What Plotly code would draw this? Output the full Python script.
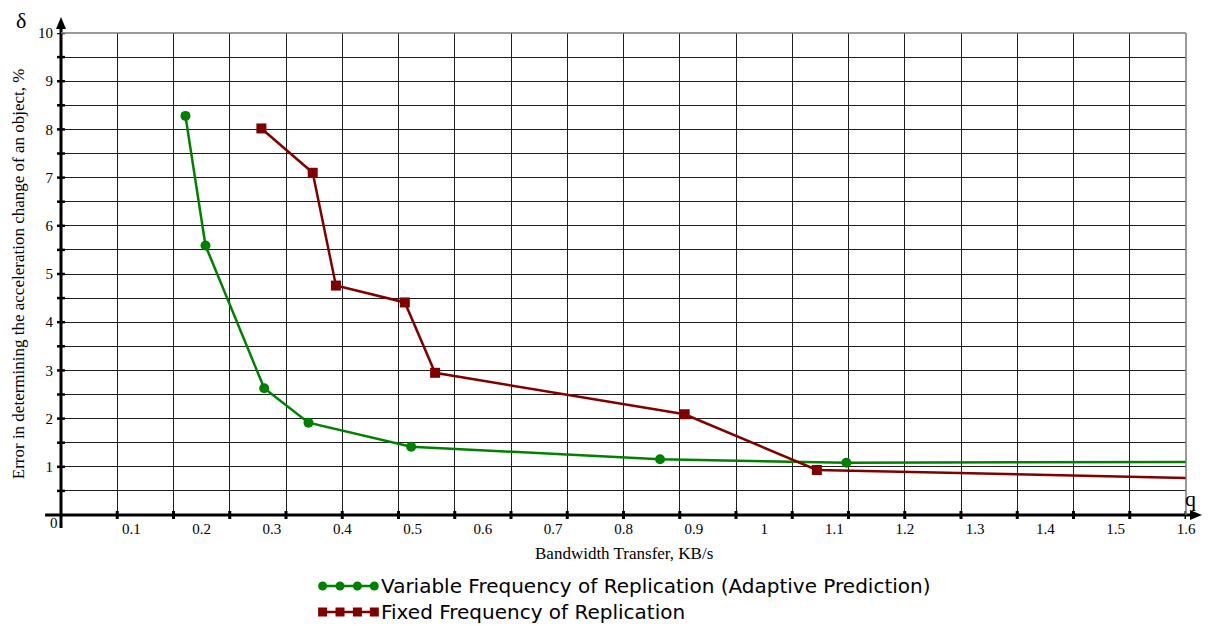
import plotly.graph_objects as go

# ---- data ----
green_x = [0.177, 0.2055, 0.289, 0.352, 0.498, 0.852, 1.117, 1.6]
green_y = [8.28, 5.59, 2.63, 1.915, 1.417, 1.155, 1.085, 1.10]
red_x = [0.285, 0.358, 0.391, 0.489, 0.532, 0.887, 1.075, 1.6]
red_y = [8.02, 7.10, 4.76, 4.41, 2.95, 2.09, 0.934, 0.77]

green_name = "Variable Frequency of Replication (Adaptive Prediction)"
red_name = "Fixed Frequency of Replication"

x_tick_vals = [0.1, 0.2, 0.3, 0.4, 0.5, 0.6, 0.7, 0.8, 0.9, 1.0, 1.1, 1.2, 1.3, 1.4, 1.5, 1.6]
x_tick_text = ["0.1", "0.2", "0.3", "0.4", "0.5", "0.6", "0.7", "0.8", "0.9", "1",
               "1.1", "1.2", "1.3", "1.4", "1.5", "1.6"]
y_tick_vals = [i * 0.5 for i in range(21)]
y_tick_text = [str(int(v)) if (v == int(v) and v != 0) else "" for v in y_tick_vals]
x_grid_vals = [round(0.08 * i, 2) for i in range(21)]

GREEN = "#008000"
RED = "#800000"
GRID = "#1e1e1e"
SERIF = "Liberation Serif"
SANS = "DejaVu Sans"

L, R, T, B = 61, 16, 33, 111
W, H = 1208, 626
PW, PH = W - L - R, H - T - B


def px(xp):
    return (xp - L) / PW


def py(yp):
    return (H - B - yp) / PH


fig = go.Figure()

fig.add_trace(go.Scatter(
    x=green_x, y=green_y, mode="lines+markers", name=green_name,
    line=dict(color=GREEN, width=2.5),
    marker=dict(color=GREEN, symbol="circle", opacity=1,
                line=dict(color=GREEN, width=0),
                size=[10] * (len(green_x) - 1) + [0]),
    showlegend=False, cliponaxis=False))
fig.add_trace(go.Scatter(
    x=red_x, y=red_y, mode="lines+markers", name=red_name,
    line=dict(color=RED, width=2.5),
    marker=dict(color=RED, symbol="square", opacity=1,
                line=dict(color=RED, width=0),
                size=[10] * (len(red_x) - 1) + [0]),
    showlegend=False, cliponaxis=False))
# invisible trace to activate the grid axis
fig.add_trace(go.Scatter(x=[0], y=[0], xaxis="x2", mode="markers",
                         marker=dict(size=0, opacity=0), showlegend=False,
                         hoverinfo="skip"))

fig.update_layout(
    width=W, height=H,
    margin=dict(l=L, r=R, t=T, b=B),
    plot_bgcolor="white", paper_bgcolor="white",
    font=dict(family=SERIF, size=15, color="black"),
    xaxis=dict(range=[0, 1.6], tickvals=x_tick_vals, ticktext=x_tick_text,
               showgrid=False, zeroline=False, showline=False, ticks="",
               ticklabelstandoff=3,
               tickfont=dict(family=SERIF, size=15, color="black")),
    xaxis2=dict(range=[0, 1.6], overlaying="x", side="bottom", anchor="y",
                tickvals=x_grid_vals, showticklabels=False,
                showgrid=True, gridcolor=GRID, gridwidth=1.2,
                ticks="", zeroline=False, showline=False),
    yaxis=dict(range=[0, 10], tickvals=y_tick_vals, ticktext=y_tick_text,
               showgrid=True, gridcolor=GRID, gridwidth=1.2,
               ticks="", zeroline=False, showline=False,
               ticklabelstandoff=7,
               tickfont=dict(family=SERIF, size=15, color="black")),
)

# axis lines (shapes) with arrowheads
fig.add_shape(type="line", xref="paper", yref="paper", x0=px(45), x1=px(1200),
              y0=0, y1=0, line=dict(color="black", width=3), layer="above")
fig.add_shape(type="line", xref="paper", yref="paper", x0=0, x1=0,
              y0=py(528), y1=py(25), line=dict(color="black", width=3), layer="above")
fig.add_shape(type="path", xref="paper", yref="paper", xsizemode="pixel", ysizemode="pixel",
              xanchor=px(1196), yanchor=0, path="M 0 -5 L 12 0 L 0 5 Z",
              fillcolor="black", line=dict(color="black", width=0), layer="above")
fig.add_shape(type="path", xref="paper", yref="paper", xsizemode="pixel", ysizemode="pixel",
              xanchor=0, yanchor=py(29), path="M -5 0 L 0 12 L 5 0 Z",
              fillcolor="black", line=dict(color="black", width=0), layer="above")

# tick marks on axes
for gx in x_grid_vals[1:]:
    fig.add_shape(type="line", xref="x", yref="paper", x0=gx, x1=gx,
                  y0=py(519), y1=py(511), line=dict(color="black", width=3), layer="above")
for gy in y_tick_vals[1:]:
    fig.add_shape(type="line", xref="paper", yref="y", x0=px(L - 4), x1=px(L + 4),
                  y0=gy, y1=gy, line=dict(color="black", width=2.5), layer="above")

# border on top and right
fig.add_shape(type="line", xref="paper", yref="paper", x0=0, x1=1, y0=1, y1=1,
              line=dict(color="#777", width=1.5))
fig.add_shape(type="line", xref="paper", yref="paper", x0=1, x1=1, y0=0, y1=1,
              line=dict(color="#777", width=1.5))


def label(text, x, y, size, family=SERIF, angle=0, xanchor="center"):
    fig.add_annotation(text=text, xref="paper", yref="paper", x=x, y=y,
                       xanchor=xanchor, yanchor="middle", textangle=angle,
                       showarrow=False, font=dict(family=family, size=size, color="black"))


label("δ", px(21), py(20), 22)
label("q", px(1197), py(498), 22)
label("0", px(54), py(523), 15)
label("Bandwidth Transfer, KB/s", 0.5, py(553), 17)
label("Error in determining the acceleration change of an object, %", px(18), 0.5, 17, angle=-90)

# custom legend
for (yy, color, sym, name) in [(586, GREEN, "circle", green_name), (612, RED, "rect", red_name)]:
    fig.add_shape(type="line", xref="paper", yref="paper", x0=px(321), x1=px(378),
                  y0=py(yy), y1=py(yy), line=dict(color=color, width=2.5))
    for mx in [324, 341.5, 359, 376]:
        fig.add_shape(type=sym, xref="paper", yref="paper",
                      xsizemode="pixel", ysizemode="pixel",
                      xanchor=px(mx), yanchor=py(yy),
                      x0=-4.5, x1=4.5, y0=-4.5, y1=4.5,
                      fillcolor=color, line=dict(color=color, width=0))
    label(name, px(381), py(yy), 20, family=SANS, xanchor="left")

fig.write_html("out.html", config={"displayModeBar": False})

# remove default page margin so the figure sits at the window origin
with open("out.html", "r", encoding="utf-8") as f:
    html = f.read()
html = html.replace("<head>", "<head><style>html,body{margin:0;padding:0;overflow:hidden}</style>", 1)
with open("out.html", "w", encoding="utf-8") as f:
    f.write(html)
